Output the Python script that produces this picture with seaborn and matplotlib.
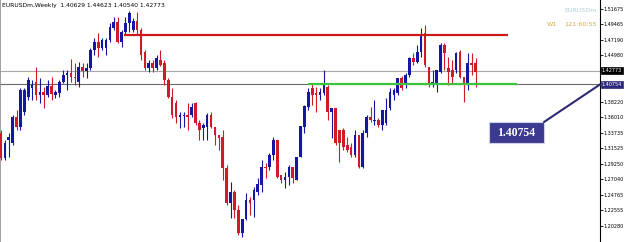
import numpy as np
import pandas as pd
import matplotlib
matplotlib.use("Agg")
import matplotlib.pyplot as plt
import seaborn as sns
from matplotlib.patches import Rectangle
from matplotlib.lines import Line2D

# ---------------- data (weekly EURUSD candles) ----------------
opens = [1.3373, 1.3011, 1.3272, 1.3229, 1.3605, 1.3460, 1.3677, 1.3894, 1.4024, 1.4111,
         1.3923, 1.3966, 1.3923, 1.4053, 1.3923, 1.3952, 1.4111, 1.4212, 1.4241, 1.4184,
         1.4111, 1.4328, 1.4270, 1.4314, 1.4574, 1.4690, 1.4603, 1.4603, 1.4719, 1.4893,
         1.4979, 1.4690, 1.4835, 1.4965, 1.4864, 1.4994, 1.4864, 1.4545, 1.4314, 1.4386,
         1.4314, 1.4430, 1.4386, 1.4140, 1.3894, 1.3808, 1.3605, 1.3619, 1.3634, 1.3634,
         1.3808, 1.3518, 1.3446, 1.3460, 1.3634, 1.3460, 1.3344, 1.3315, 1.2867, 1.2360,
         1.2519, 1.2259, 1.1926, 1.2129, 1.2404, 1.2404, 1.2519, 1.2621, 1.2881, 1.2881,
         1.3055, 1.3272, 1.2765, 1.2693, 1.2737, 1.2881, 1.2693, 1.3026, 1.3460, 1.3749,
         1.4024, 1.3952, 1.3923, 1.3952, 1.4039, 1.3677, 1.3735, 1.3417, 1.3417, 1.3200,
         1.3171, 1.3055, 1.3344, 1.2881, 1.3373, 1.3605, 1.3547, 1.3561, 1.3489, 1.3518,
         1.3735, 1.3923, 1.3952, 1.4169, 1.4068, 1.4212, 1.4458, 1.4401, 1.4545, 1.4820,
         1.4328, 1.4097, 1.4097, 1.4256, 1.4647, 1.4314, 1.4285, 1.4285, 1.4545, 1.4184,
         1.4097, 1.4386, 1.4386]
highs = [1.3417, 1.3272, 1.3373, 1.3634, 1.3706, 1.4024, 1.4024, 1.4184, 1.4140, 1.4328,
         1.4169, 1.4039, 1.4140, 1.4184, 1.3995, 1.4140, 1.4285, 1.4285, 1.4444, 1.4386,
         1.4401, 1.4386, 1.4386, 1.4603, 1.4748, 1.4820, 1.4748, 1.4748, 1.4965, 1.5052,
         1.5052, 1.4864, 1.5052, 1.5139, 1.5037, 1.5124, 1.4893, 1.4574, 1.4430, 1.4430,
         1.4502, 1.4574, 1.4430, 1.4169, 1.4024, 1.3851, 1.3677, 1.3677, 1.3808, 1.3808,
         1.3822, 1.3561, 1.3518, 1.3663, 1.3677, 1.3460, 1.3344, 1.3417, 1.2910, 1.2664,
         1.2548, 1.2331, 1.2129, 1.2505, 1.2447, 1.2592, 1.2722, 1.2982, 1.2939, 1.3084,
         1.3315, 1.3272, 1.2765, 1.2809, 1.2910, 1.2881, 1.3026, 1.3475, 1.3778, 1.4024,
         1.4097, 1.4039, 1.4024, 1.4285, 1.4068, 1.3735, 1.3735, 1.3417, 1.3446, 1.3315,
         1.3229, 1.3417, 1.3344, 1.3417, 1.3634, 1.3749, 1.3851, 1.3590, 1.3706, 1.3880,
         1.4024, 1.4024, 1.4169, 1.4198, 1.4241, 1.4473, 1.4531, 1.4647, 1.4893, 1.4936,
         1.4328, 1.4285, 1.4285, 1.4676, 1.4676, 1.4473, 1.4430, 1.4545, 1.4574, 1.4184,
         1.4531, 1.4531, 1.4458]
lows = [1.2982, 1.2982, 1.3026, 1.3200, 1.3417, 1.3417, 1.3634, 1.3851, 1.3851, 1.3851,
        1.3808, 1.3735, 1.3894, 1.3851, 1.3880, 1.3894, 1.4097, 1.3995, 1.4111, 1.4068,
        1.4039, 1.4184, 1.4169, 1.4285, 1.4502, 1.4473, 1.4574, 1.4502, 1.4690, 1.4864,
        1.4676, 1.4618, 1.4791, 1.4835, 1.4835, 1.4791, 1.4430, 1.4285, 1.4256, 1.4256,
        1.4285, 1.4343, 1.4068, 1.3880, 1.3590, 1.3518, 1.3446, 1.3460, 1.3417, 1.3605,
        1.3489, 1.3272, 1.3272, 1.3272, 1.3446, 1.3200, 1.3127, 1.2693, 1.2331, 1.2143,
        1.2143, 1.1897, 1.1868, 1.2114, 1.2187, 1.2158, 1.2476, 1.2519, 1.2722, 1.2838,
        1.2982, 1.2722, 1.2650, 1.2577, 1.2621, 1.2650, 1.2693, 1.3026, 1.3373, 1.3706,
        1.3778, 1.3677, 1.3851, 1.3923, 1.3561, 1.3301, 1.3200, 1.2953, 1.3127, 1.3098,
        1.3026, 1.3026, 1.2867, 1.2867, 1.3315, 1.3532, 1.3489, 1.3460, 1.3417, 1.3489,
        1.3706, 1.3851, 1.3923, 1.3995, 1.4024, 1.4184, 1.4357, 1.4386, 1.4473, 1.4328,
        1.4039, 1.4039, 1.3966, 1.4241, 1.4285, 1.4068, 1.4097, 1.4241, 1.4169, 1.3822,
        1.3995, 1.4212, 1.4039]
closes = [1.3011, 1.3229, 1.3315, 1.3605, 1.3460, 1.3995, 1.3995, 1.4140, 1.4068, 1.3923,
          1.3966, 1.3923, 1.4053, 1.3938, 1.3966, 1.4111, 1.4212, 1.4241, 1.4184, 1.4169,
          1.4328, 1.4270, 1.4314, 1.4574, 1.4690, 1.4603, 1.4719, 1.4719, 1.4907, 1.4979,
          1.4690, 1.4835, 1.4965, 1.5110, 1.4994, 1.4864, 1.4502, 1.4314, 1.4386, 1.4314,
          1.4458, 1.4357, 1.4140, 1.3894, 1.3634, 1.3605, 1.3634, 1.3634, 1.3605, 1.3749,
          1.3518, 1.3417, 1.3489, 1.3634, 1.3460, 1.3344, 1.3301, 1.2867, 1.2360, 1.2519,
          1.2259, 1.1926, 1.2129, 1.2404, 1.2360, 1.2548, 1.2635, 1.2881, 1.2867, 1.3055,
          1.3272, 1.2737, 1.2693, 1.2737, 1.2881, 1.2722, 1.3026, 1.3475, 1.3764, 1.3966,
          1.3923, 1.3923, 1.3966, 1.4068, 1.3677, 1.3735, 1.3229, 1.3229, 1.3171, 1.3127,
          1.3055, 1.3344, 1.2881, 1.3373, 1.3605, 1.3561, 1.3561, 1.3489, 1.3706, 1.3706,
          1.3966, 1.3995, 1.4169, 1.4024, 1.4212, 1.4458, 1.4401, 1.4545, 1.4791, 1.4357,
          1.4097, 1.4111, 1.4285, 1.4647, 1.4531, 1.4256, 1.4184, 1.4531, 1.4184, 1.4097,
          1.4386, 1.4357, 1.4256]

ytick_values = [1.51675, 1.49465, 1.47190, 1.44980, 1.38220, 1.36010, 1.33735,
                1.31525, 1.29250, 1.27040, 1.24765, 1.22555, 1.20280]

header_text = "EURUSDm,Weekly  1.40629 1.44623 1.40540 1.42773"
symbol_text = "EURUSDm"
timeframe_text = "W1"
countdown_text = "121:60:55"

bid_price = 1.42773
level_price = 1.40754
resistance_price = 1.4797
resistance_start, resistance_end = 31.6, 130.3
support_price = 1.4077
support_start, support_end = 79.0, 132.6

# ---------------- style ----------------
BLUE = "#1616a4"
RED = "#d01a28"
W, H = 625, 242

sns.set_style("white")
plt.rcParams["font.family"] = ["DejaVu Sans"]

df = pd.DataFrame({"open": opens, "high": highs, "low": lows, "close": closes})
df["idx"] = np.arange(len(df))
df["color"] = np.where(df["close"] >= df["open"], BLUE, RED)
df["body_low"] = df[["open", "close"]].min(axis=1)
df["body_h"] = (df["close"] - df["open"]).abs().clip(lower=0.0012)

fig = plt.figure(figsize=(W / 100, H / 100), dpi=100)
fig.patch.set_facecolor("white")
ax = fig.add_axes([0, 0, 600 / W, 1])
ax.set_facecolor("white")

# horizontal price lines
ax.axhline(bid_price, color="#a8a8a8", lw=0.8, zorder=1)
ax.axhline(level_price, color="#6a6a6a", lw=0.8, zorder=1)

# candles
ax.vlines(df["idx"], df["low"], df["high"], colors=df["color"], lw=0.8, zorder=2)
ax.bar(df["idx"], df["body_h"], bottom=df["body_low"], width=0.68,
       color=df["color"], linewidth=0, zorder=3)

# trend levels
ax.hlines(resistance_price, resistance_start, resistance_end, color="#d01818", lw=1.6, zorder=4)
ax.hlines(support_price, support_start, support_end, color="#3cc43c", lw=1.6, zorder=4)

step = 3.89
ax.set_xlim(-1 / step, 599 / step)
ax.set_ylim(1.1796, 1.52977)

ax.set_xticks([])
ax.set_yticks(ytick_values)
ax.set_yticklabels([f"{v:.5f}" for v in ytick_values])
ax.yaxis.tick_right()
ax.tick_params(axis="y", right=True, left=False, labelright=True, labelleft=False,
               length=2, width=0.6, pad=0.8, labelsize=3.5, colors="black")
for s in ["top", "bottom"]:
    ax.spines[s].set_visible(False)
ax.spines["left"].set_color("#909090")
ax.spines["left"].set_linewidth(1.2)
ax.spines["right"].set_color("black")
ax.spines["right"].set_linewidth(0.8)

# price boxes on the axis
ytr = ax.get_yaxis_transform()
ax.text(1.003, bid_price, f"{bid_price:.5f}", transform=ytr, ha="left", va="center",
        fontsize=3.5, color="white", clip_on=False,
        bbox=dict(boxstyle="square,pad=0.15", fc="black", ec="black", lw=0.5))
ax.text(1.003, level_price, f"{level_price:.5f}", transform=ytr, ha="left", va="center",
        fontsize=3.5, color="white", clip_on=False,
        bbox=dict(boxstyle="square,pad=0.15", fc="#2c2a7a", ec="#2c2a7a", lw=0.5))

# header texts
fig.text(2 / W, 1 - 5 / H, header_text, fontsize=4.3, color="black", ha="left", va="center")
fig.text(597 / W, 1 - 10 / H, symbol_text, fontsize=4.6, color="#b4cedc", ha="right", va="center")
fig.text(547 / W, 1 - 24 / H, timeframe_text, fontsize=4.6, color="#d4aa44", ha="left", va="center")
fig.text(597 / W, 1 - 24 / H, countdown_text, fontsize=4.6, color="#d4aa44", ha="right", va="center")

# callout box with connector to the axis
axis_y_px = ax.transData.transform((0, level_price))[1]
fig.add_artist(Line2D([544 / W, 600 / W], [1 - 122 / H, axis_y_px / H],
                      color="#2c2a72", lw=1.5, transform=fig.transFigure))
fig.add_artist(Rectangle((489 / W, 1 - 143 / H), 55 / W, 21 / H, transform=fig.transFigure,
                         fc="#3b3990", ec="#d0d0e8", lw=0.8))
fig.text(516.5 / W, 1 - 132.5 / H, f"{level_price:.5f}", fontsize=8.5, color="white",
         family=["Liberation Serif", "DejaVu Serif"], weight="bold", ha="center", va="center")

fig.savefig("out.png", dpi=100, facecolor="white")
